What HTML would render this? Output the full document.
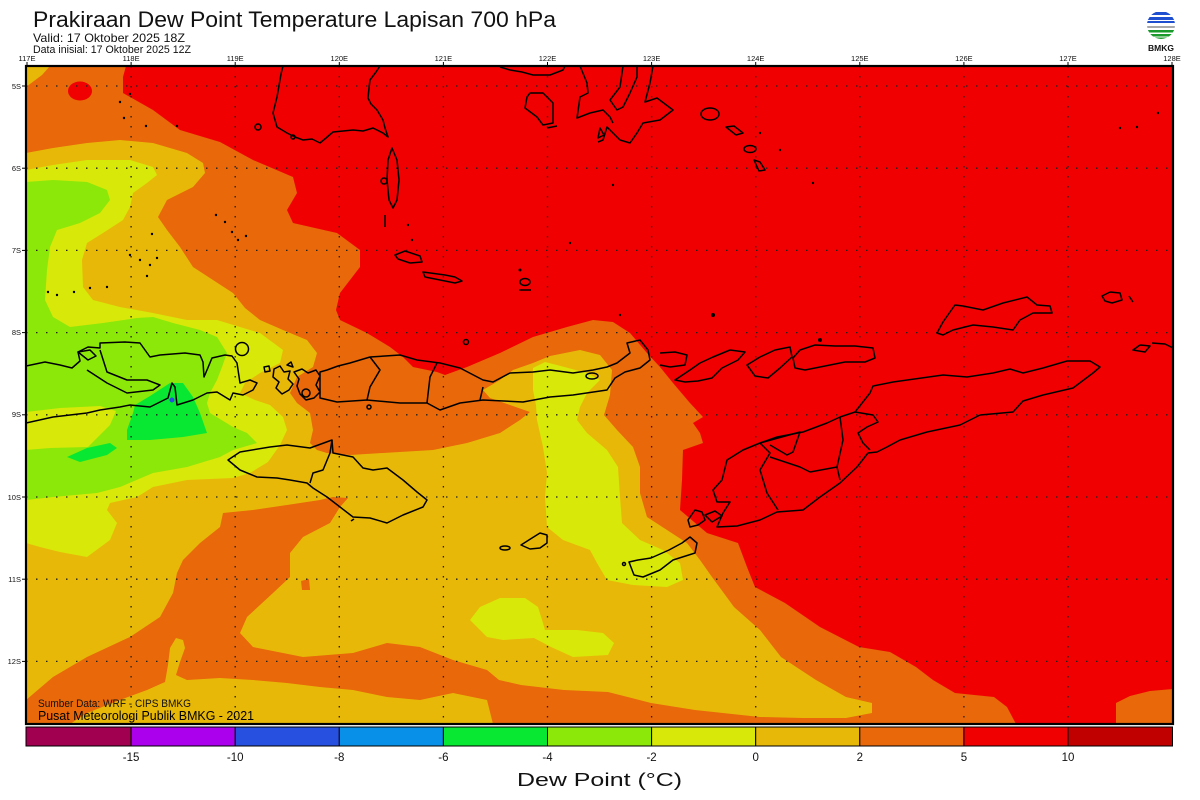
<!DOCTYPE html>
<html><head><meta charset="utf-8"><style>
html,body{margin:0;padding:0;background:#fff;}
svg{display:block;}
text{font-family:"Liberation Sans",sans-serif;}
</style></head><body>
<svg width="1200" height="800" viewBox="0 0 1200 800" xmlns="http://www.w3.org/2000/svg">
<defs>
<clipPath id="plot"><rect x="26" y="66" width="1147" height="658"/></clipPath>
<clipPath id="logo"><circle cx="1161" cy="25" r="14"/></clipPath>
</defs>
<rect width="1200" height="800" fill="#fff"/>

<!-- Title -->
<text x="33" y="27" font-size="22" textLength="523" lengthAdjust="spacingAndGlyphs" fill="#111">Prakiraan Dew Point Temperature Lapisan 700 hPa</text>
<text x="33" y="42" font-size="12" textLength="152" lengthAdjust="spacingAndGlyphs" fill="#111">Valid: 17 Oktober 2025 18Z</text>
<text x="33" y="53" font-size="11" textLength="158" lengthAdjust="spacingAndGlyphs" fill="#111">Data inisial: 17 Oktober 2025 12Z</text>

<!-- Logo -->
<g clip-path="url(#logo)">
<rect x="1145" y="9" width="32" height="32" fill="#fff"/>
<rect x="1145" y="12" width="32" height="3" fill="#1e4fd0"/>
<rect x="1145" y="17" width="32" height="3" fill="#1e4fd0"/>
<rect x="1145" y="21" width="32" height="2" fill="#1e4fd0"/>
<rect x="1145" y="26" width="32" height="2" fill="#aaa"/>
<rect x="1145" y="30" width="32" height="2.5" fill="#1a9a2a"/>
<rect x="1145" y="34" width="32" height="2.5" fill="#1a9a2a"/>
<rect x="1145" y="37.5" width="32" height="2.5" fill="#1a9a2a"/>
</g>
<text x="1161" y="51" font-size="8.5" font-weight="bold" text-anchor="middle" fill="#111">BMKG</text>

<!-- Plot fields -->
<g clip-path="url(#plot)">
<rect x="26" y="66" width="1147" height="658" fill="#f00000"/>
<!-- orange -->
<path fill="#e8680a" d="M26,66 L126,66 L123,77 L123,93 L153,110 L180,130 L220,142 L253,160 L293,177 L297,193 L287,210 L293,223 L337,233 L360,250 L360,267 L340,293 L336,310 L340,320 L367,333 L390,347 L403,357 L413,367 L437,372 L445,375 L467,367 L500,353 L533,337 L567,327 L593,320 L613,322 L630,333 L647,353 L660,367 L673,383 L690,403 L703,417 L693,423 L700,433 L703,443 L683,450 L682,480 L680,510 L707,533 L738,543 L747,567 L755,587 L785,603 L820,627 L859,647 L890,652 L916,667 L933,680 L955,693 L994,697 L1007,707 L1016,724 L26,724 Z"/>
<path fill="#e8680a" d="M1116,724 L1116,703 L1130,696 L1150,691 L1173,689 L1173,724 Z"/>
<ellipse cx="80" cy="91" rx="12" ry="9.5" fill="#f00000"/>
<!-- gold -->
<path fill="#e8b808" d="M26,66 L50,66 L42,75 L26,87 Z"/>
<path fill="#e8b808" d="M26,153 L53,148 L87,143 L120,140 L153,143 L187,153 L203,163 L205,173 L193,187 L167,200 L158,217 L167,230 L180,247 L193,267 L213,280 L233,293 L245,308 L260,320 L283,330 L307,340 L317,353 L313,367 L297,377 L290,393 L297,403 L310,413 L313,430 L310,443 L317,450 L327,453 L350,455 L383,453 L433,450 L467,443 L500,433 L520,420 L530,412 L510,405 L490,398 L483,390 L500,380 L513,370 L533,363 L550,356 L580,350 L600,355 L612,370 L610,395 L604,415 L617,430 L633,447 L640,467 L640,493 L647,517 L667,530 L687,543 L700,560 L712,577 L734,607 L760,630 L781,657 L816,680 L846,697 L872,703 L872,713 L846,718 L803,718 L760,717 L695,710 L651,703 L608,692 L564,690 L521,685 L499,680 L487,670 L453,660 L420,647 L387,643 L353,653 L303,657 L253,647 L240,633 L247,617 L273,593 L290,577 L290,553 L303,537 L330,523 L340,507 L348,498 L333,497 L320,500 L287,505 L253,510 L223,513 L220,527 L200,543 L183,560 L177,573 L173,593 L160,617 L130,637 L87,657 L53,677 L26,700 Z"/>
<path fill="#e8b808" d="M70,724 L87,713 L120,700 L147,690 L165,682 L168,665 L170,648 L176,638 L183,640 L185,648 L180,662 L176,675 L187,680 L220,678 L253,680 L287,683 L320,687 L353,690 L387,697 L420,700 L453,693 L487,700 L493,724 Z"/>
<path fill="#e8680a" d="M301,581 L309,579 L310,590 L302,590 Z"/>
<!-- yellow -->
<path fill="#d8e808" d="M26,170 L53,165 L87,160 L130,160 L153,167 L157,175 L147,183 L133,193 L130,207 L123,220 L103,233 L87,243 L82,260 L83,287 L93,300 L120,307 L153,313 L187,320 L217,320 L240,327 L260,333 L283,350 L280,363 L260,373 L245,383 L240,393 L255,400 L270,405 L283,417 L287,430 L280,445 L268,462 L250,473 L233,478 L187,480 L153,487 L137,497 L110,503 L107,510 L117,523 L110,540 L87,557 L60,552 L40,547 L26,543 Z"/>
<path fill="#d8e808" d="M533,368 L545,362 L557,365 L587,373 L600,380 L587,393 L580,407 L577,420 L587,433 L607,450 L618,467 L620,497 L622,523 L640,540 L663,550 L680,563 L683,580 L667,587 L633,585 L607,580 L597,563 L590,550 L563,540 L547,527 L545,497 L547,473 L543,447 L537,420 L536,405 L533,390 Z"/>
<path fill="#d8e808" d="M470,620 L480,607 L500,598 L525,598 L538,607 L543,623 L545,630 L577,630 L603,633 L614,643 L608,655 L573,657 L551,647 L534,638 L503,640 L487,637 Z"/>
<!-- yellow-green -->
<path fill="#8ce808" d="M26,182 L53,180 L87,182 L107,190 L110,200 L100,213 L80,223 L57,230 L50,247 L47,270 L45,300 L53,317 L70,327 L103,323 L137,318 L153,317 L173,323 L200,330 L217,337 L227,353 L222,367 L217,380 L210,393 L207,403 L210,413 L233,427 L247,433 L257,443 L233,450 L220,457 L187,467 L153,473 L120,487 L97,493 L53,497 L26,500 Z"/>
<path fill="#d8e808" d="M26,412 L60,408 L100,406 L116,411 L110,425 L97,438 L88,447 L50,448 L26,450 Z"/>
<!-- green -->
<path fill="#08e832" d="M135,405 L150,396 L170,383 L183,383 L193,397 L200,413 L207,433 L183,437 L150,440 L127,440 L127,430 L133,413 Z"/>
<path fill="#08e832" d="M67,457 L87,448 L110,443 L117,448 L107,455 L80,462 Z"/>
<circle cx="172" cy="400" r="2.5" fill="#2850e0"/>

<!-- grid -->
<g stroke="#222" stroke-width="1.3" stroke-dasharray="1.5 8.5" fill="none">
<line x1="131.1" y1="66" x2="131.1" y2="724"/>
<line x1="235.2" y1="66" x2="235.2" y2="724"/>
<line x1="339.3" y1="66" x2="339.3" y2="724"/>
<line x1="443.4" y1="66" x2="443.4" y2="724"/>
<line x1="547.5" y1="66" x2="547.5" y2="724"/>
<line x1="651.6" y1="66" x2="651.6" y2="724"/>
<line x1="755.7" y1="66" x2="755.7" y2="724"/>
<line x1="859.8" y1="66" x2="859.8" y2="724"/>
<line x1="963.9" y1="66" x2="963.9" y2="724"/>
<line x1="1068" y1="66" x2="1068" y2="724"/>
<line x1="26" y1="86" x2="1173" y2="86"/>
<line x1="26" y1="168.2" x2="1173" y2="168.2"/>
<line x1="26" y1="250.4" x2="1173" y2="250.4"/>
<line x1="26" y1="332.6" x2="1173" y2="332.6"/>
<line x1="26" y1="414.8" x2="1173" y2="414.8"/>
<line x1="26" y1="497" x2="1173" y2="497"/>
<line x1="26" y1="579.2" x2="1173" y2="579.2"/>
<line x1="26" y1="661.4" x2="1173" y2="661.4"/>
</g>

<!-- coastlines -->
<g stroke="#000" stroke-width="1.5" fill="none" stroke-linejoin="round">
<!-- Sulawesi SW -->
<path d="M283,66 L281,74 L280,80 L277,97 L273,113 L277,127 L287,133 L295,137 L303,140 L312,139 L320,143 L326,138 L333,132 L343,131 L353,130 L363,131 L373,128 L383,133 L388,137 L385,128 L383,120 L377,110 L371,104 L368,98 L369,88 L370,80 L376,72 L380,66"/>
<path d="M392,148 L397,160 L399,180 L397,200 L393,208 L389,200 L387,180 L388,160 Z"/>
<circle cx="384" cy="181" r="3"/>
<path d="M385,215 L385,227"/>
<circle cx="258" cy="127" r="3"/>
<circle cx="293" cy="137" r="2"/>
<!-- Kabaena / Buton / Muna -->
<path d="M530,93 L543,93 L553,103 L553,123 L543,125 L537,117 L525,108 L527,97 Z"/>
<path d="M547,128 L557,126"/>
<path d="M500,67 L510,70 L522,72 L533,75 L550,75 L563,70 L565,66"/>
<path d="M580,66 L587,83 L588,93 L580,97 L577,118 L590,113 L603,110 L610,117 L613,123"/>
<path d="M623,66 L620,87 L610,100 L617,110 L623,107 L630,93 L637,77 L637,66"/>
<path d="M653,66 L650,83 L645,102 L657,98 L673,110 L660,120 L643,123 L637,133 L630,143 L620,140 L613,133 L607,127 L603,140 L598,142"/>
<path d="M600,128 L604,135 L598,138 Z"/>
<ellipse cx="710" cy="114" rx="9" ry="6"/>
<path d="M726,127 L734,126 L743,133 L736,135 Z"/>
<ellipse cx="750" cy="149" rx="6" ry="3.5"/>
<path d="M754,160 L760,162 L765,170 L759,171 Z"/>
<!-- islands middle north -->
<path d="M395,255 L405,251 L420,256 L422,262 L410,263 L398,259 Z"/>
<path d="M423,272 L445,275 L455,277 L462,281 L455,283 L440,280 L425,277 Z"/>
<ellipse cx="525" cy="282" rx="5" ry="3.5"/>
<path d="M519,290 L531,290"/>
<!-- Sumbawa -->
<path d="M26,366 L45,362 L60,365 L72,368 L80,361 L78,352 L88,347 L100,348 L100,343 L125,342 L140,343 L150,357 L160,355 L185,353 L200,355 L203,362 L204,377 L207,370 L212,358 L225,355 L232,356 L237,363 L240,383 L250,380 L257,383 L253,390 L243,395 L233,393 L230,400 L217,392 L207,393 L193,400 L177,405 L175,387 L172,383 L168,398 L150,407 L130,405 L120,407 L100,410 L87,413 L53,417 L26,423"/>
<path d="M78,352 L90,350 L96,356 L88,360 Z"/>
<path d="M100,350 L107,372 L127,380 L147,380 L160,385 L153,390 L127,393 L107,383 L87,370"/>
<circle cx="242" cy="349" r="6.5"/>
<!-- Komodo cluster -->
<path d="M264,367 L269,366 L270,371 L265,372 Z"/>
<path d="M274,369 L280,366 L284,372 L290,371 L288,379 L293,384 L289,390 L282,394 L276,388 L279,382 L273,377 Z"/>
<path d="M294,372 L302,369 L308,373 L316,370 L320,376 L316,385 L320,392 L314,398 L306,400 L300,394 L297,386 L299,379 Z"/>
<circle cx="306" cy="393" r="4"/>
<path d="M287,365 L291,362 L293,367 Z"/>
<!-- Flores -->
<path d="M320,372 L327,370 L338,366 L350,363 L370,357 L385,356 L400,355 L417,360 L440,363 L460,368 L483,380 L493,382 L510,373 L533,372 L550,370 L573,373 L593,370 L607,367 L617,363 L630,353 L627,343 L640,340 L648,350 L650,360 L640,368 L625,372 L615,378 L607,390 L573,395 L550,397 L523,402 L483,400 L460,403 L440,410 L427,403 L400,403 L367,400 L337,402 L320,398 Z"/>
<path d="M370,357 L380,370 L370,387 L367,400"/>
<path d="M437,363 L430,377 L427,403"/>
<path d="M483,387 L480,400"/>
<ellipse cx="592" cy="376" rx="6" ry="3"/>
<circle cx="466" cy="342" r="2.5"/>
<circle cx="369" cy="407" r="2"/>
<!-- Solor / Lembata / Pantar / Alor -->
<path d="M660,353 L675,352 L687,355 L685,365 L670,367 L660,365"/>
<path d="M675,380 L690,370 L700,363 L713,357 L730,350 L745,352 L738,360 L722,368 L712,378 L698,381 L685,382 Z"/>
<path d="M747,365 L760,357 L775,350 L790,347 L792,357 L780,368 L768,378 L755,376 Z"/>
<path d="M793,358 L800,350 L815,345 L835,346 L855,346 L873,348 L875,358 L865,362 L845,362 L825,366 L805,370 L795,368 Z"/>
<!-- Wetar -->
<path d="M937,333 L943,322 L950,312 L955,305 L963,306 L983,310 L1003,303 L1027,297 L1037,305 L1050,306 L1052,313 L1033,313 L1020,320 L1013,330 L993,327 L973,325 L953,330 L943,335 Z"/>
<path d="M1102,296 L1110,292 L1120,293 L1122,300 L1112,303 L1105,301 Z"/>
<path d="M1129,296 L1133,302"/>
<path d="M1133,350 L1140,345 L1150,346 L1145,352 Z"/>
<path d="M1152,343 L1165,344 L1173,348"/>
<!-- Timor -->
<path d="M855,412 L870,393 L873,386 L893,382 L943,375 L967,377 L993,373 L1010,369 L1023,373 L1043,368 L1067,361 L1090,361 L1100,367 L1093,373 L1073,388 L1043,395 L1023,401 L1013,412 L980,415 L960,425 L927,432 L900,440 L887,447 L877,452 L868,453 L857,467 L840,483 L820,497 L803,510 L777,512 L760,520 L737,526 L717,527 L723,513 L730,502 L717,502 L713,490 L722,480 L727,460 L743,450 L760,443 L777,437 L803,432 L827,423 L840,417 Z"/>
<path d="M855,412 L873,415 L878,422 L867,427 L858,433 L863,443 L870,450"/>
<path d="M840,417 L843,440 L837,467 L840,480"/>
<path d="M760,443 L770,453 L760,470 L767,493 L778,510"/>
<path d="M770,457 L800,467 L810,472 L837,467"/>
<path d="M760,443 L800,432 L793,452 L787,455 L770,445"/>
<path d="M688,520 L695,510 L702,512 L705,520 L698,525 L690,527 Z"/>
<path d="M705,515 L715,511 L722,516 L712,522 Z"/>
<!-- Rote / Savu -->
<path d="M629,562 L634,575 L643,577 L660,570 L673,560 L695,553 L697,543 L690,537 L682,543 L669,550 L651,558 L638,560 Z"/>
<circle cx="624" cy="564" r="1.5"/>
<path d="M521,545 L532,538 L540,533 L547,535 L547,543 L540,548 L530,549 Z"/>
<ellipse cx="505" cy="548" rx="5" ry="2"/>
<!-- Sumba -->
<path d="M228,460 L240,452 L270,447 L287,445 L310,448 L332,440 L333,453 L353,457 L363,468 L373,470 L387,468 L403,480 L417,492 L427,500 L423,507 L403,515 L387,523 L370,518 L353,517 L340,507 L327,497 L313,488 L307,483 L290,480 L277,478 L257,477 L240,470 Z"/>
<path d="M332,440 L330,453 L323,470 L313,473 L310,483"/>
<path d="M351,521 L354,519"/>
</g>
<!-- small dots -->
<g fill="#000">
<circle cx="130" cy="94" r="1.2"/><circle cx="120" cy="102" r="1.2"/><circle cx="124" cy="118" r="1.2"/>
<circle cx="146" cy="126" r="1.2"/><circle cx="177" cy="126" r="1.2"/><circle cx="152" cy="234" r="1.2"/>
<circle cx="216" cy="215" r="1.2"/><circle cx="225" cy="222" r="1.2"/><circle cx="232" cy="232" r="1.2"/>
<circle cx="238" cy="240" r="1.2"/><circle cx="246" cy="236" r="1.2"/><circle cx="157" cy="258" r="1.2"/>
<circle cx="150" cy="265" r="1.2"/><circle cx="140" cy="260" r="1.2"/><circle cx="48" cy="292" r="1.2"/>
<circle cx="57" cy="295" r="1.2"/><circle cx="74" cy="292" r="1.2"/><circle cx="90" cy="288" r="1.2"/>
<circle cx="107" cy="287" r="1.2"/><circle cx="147" cy="276" r="1.2"/><circle cx="130" cy="255" r="1.2"/>
<circle cx="408" cy="225" r="1.2"/><circle cx="412" cy="240" r="1.2"/><circle cx="520" cy="270" r="1.5"/>
<circle cx="570" cy="243" r="1.2"/><circle cx="613" cy="185" r="1.2"/><circle cx="620" cy="315" r="1.2"/>
<circle cx="713" cy="315" r="2"/><circle cx="813" cy="183" r="1.2"/><circle cx="820" cy="340" r="2"/>
<circle cx="1120" cy="128" r="1.2"/><circle cx="1137" cy="127" r="1.2"/><circle cx="1158" cy="113" r="1.2"/>
<circle cx="760" cy="133" r="1.2"/><circle cx="780" cy="150" r="1.2"/>
</g>
</g>

<!-- frame -->
<rect x="26" y="66" width="1147" height="658" fill="none" stroke="#000" stroke-width="2.2"/>

<!-- lon ticks -->
<g stroke="#000" stroke-width="1">
<line x1="27" y1="62" x2="27" y2="66"/><line x1="131.1" y1="62" x2="131.1" y2="66"/><line x1="235.2" y1="62" x2="235.2" y2="66"/>
<line x1="339.3" y1="62" x2="339.3" y2="66"/><line x1="443.4" y1="62" x2="443.4" y2="66"/><line x1="547.5" y1="62" x2="547.5" y2="66"/>
<line x1="651.6" y1="62" x2="651.6" y2="66"/><line x1="755.7" y1="62" x2="755.7" y2="66"/><line x1="859.8" y1="62" x2="859.8" y2="66"/>
<line x1="963.9" y1="62" x2="963.9" y2="66"/><line x1="1068" y1="62" x2="1068" y2="66"/><line x1="1172" y1="62" x2="1172" y2="66"/>
<line x1="22" y1="86" x2="26" y2="86"/><line x1="22" y1="168.2" x2="26" y2="168.2"/><line x1="22" y1="250.4" x2="26" y2="250.4"/>
<line x1="22" y1="332.6" x2="26" y2="332.6"/><line x1="22" y1="414.8" x2="26" y2="414.8"/><line x1="22" y1="497" x2="26" y2="497"/>
<line x1="22" y1="579.2" x2="26" y2="579.2"/><line x1="22" y1="661.4" x2="26" y2="661.4"/>
</g>
<g font-size="7.5" fill="#111" text-anchor="middle">
<text x="27" y="61">117E</text><text x="131.1" y="61">118E</text><text x="235.2" y="61">119E</text>
<text x="339.3" y="61">120E</text><text x="443.4" y="61">121E</text><text x="547.5" y="61">122E</text>
<text x="651.6" y="61">123E</text><text x="755.7" y="61">124E</text><text x="859.8" y="61">125E</text>
<text x="963.9" y="61">126E</text><text x="1068" y="61">127E</text><text x="1172" y="61">128E</text>
</g>
<g font-size="7.5" fill="#111" text-anchor="end">
<text x="21" y="89">5S</text><text x="21" y="171">6S</text><text x="21" y="253">7S</text>
<text x="21" y="335">8S</text><text x="21" y="417">9S</text><text x="21" y="500">10S</text>
<text x="21" y="582">11S</text><text x="21" y="664">12S</text>
</g>

<!-- source text -->
<text x="38" y="707" font-size="11" textLength="153" lengthAdjust="spacingAndGlyphs" fill="#111">Sumber Data: WRF - CIPS BMKG</text>
<text x="38" y="720" font-size="12.5" textLength="216" lengthAdjust="spacingAndGlyphs" fill="#000">Pusat Meteorologi Publik BMKG - 2021</text>

<!-- colorbar -->
<g stroke="#000" stroke-width="1">
<rect x="26" y="727" width="105.1" height="19" fill="#a0004f"/>
<rect x="131.1" y="727" width="104.1" height="19" fill="#aa00ee"/>
<rect x="235.2" y="727" width="104.1" height="19" fill="#2850e0"/>
<rect x="339.3" y="727" width="104.1" height="19" fill="#0890e8"/>
<rect x="443.4" y="727" width="104.1" height="19" fill="#08e832"/>
<rect x="547.5" y="727" width="104.1" height="19" fill="#8ce808"/>
<rect x="651.6" y="727" width="104.1" height="19" fill="#d8e808"/>
<rect x="755.7" y="727" width="104.1" height="19" fill="#e8b808"/>
<rect x="859.8" y="727" width="104.1" height="19" fill="#e8680a"/>
<rect x="963.9" y="727" width="104.1" height="19" fill="#f00000"/>
<rect x="1068" y="727" width="104.5" height="19" fill="#c00000"/>
</g>
<g font-size="11.5" fill="#111" text-anchor="middle">
<text x="131.1" y="761">-15</text><text x="235.2" y="761">-10</text><text x="339.3" y="761">-8</text>
<text x="443.4" y="761">-6</text><text x="547.5" y="761">-4</text><text x="651.6" y="761">-2</text>
<text x="755.7" y="761">0</text><text x="859.8" y="761">2</text><text x="963.9" y="761">5</text>
<text x="1068" y="761">10</text>
</g>
<text x="517" y="786" font-size="18" textLength="165" lengthAdjust="spacingAndGlyphs" fill="#111">Dew Point (°C)</text>
</svg>
</body></html>
